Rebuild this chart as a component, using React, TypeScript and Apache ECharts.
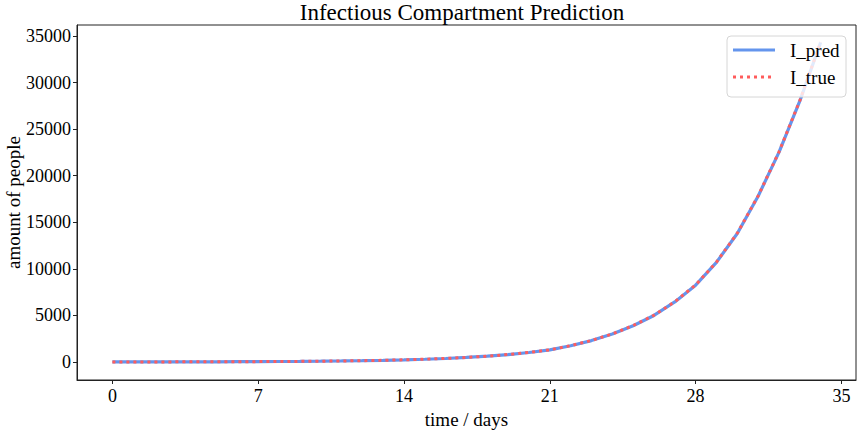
import React, { useEffect, useRef } from "react";
import * as echarts from "echarts";

const days = [0,1,2,3,4,5,6,7,8,9,10,11,12,13,14,15,16,17,18,19,20,21,22,23,24,25,26,27,28,29,30,31,32,33,34];
const predValues = [8,10,12,16,20,26,33,42,54,69,88,113,145,185,235,300,380,490,625,800,1020,1300,1750,2300,3000,3900,5000,6450,8250,10700,13800,17800,22500,28000,34300];
const trueValues = [8,10,12,16,20,26,33,42,54,69,88,113,145,185,236,301,382,492,628,803,1024,1305,1755,2310,3010,3915,5020,6470,8270,10720,13830,17830,22540,28050,34350];
const xTicks = [0, 7, 14, 21, 28, 35];
const yTicks = [0, 5000, 10000, 15000, 20000, 25000, 30000, 35000];
const legendNames = ["I_pred", "I_true"];

const FONT = "'Liberation Serif', 'DejaVu Serif', serif";
const BLUE = "#6495ED";
const RED = "#ff5c5c";

export default function App() {
  const ref = useRef<HTMLDivElement>(null);
  useEffect(() => {
    if (!ref.current) return;
    const chart = echarts.init(ref.current, null, { renderer: "svg" });
    chart.setOption({
      animation: false,
      backgroundColor: "#ffffff",
      title: {
        text: "Infectious Compartment Prediction",
        left: 462,
        textAlign: "center",
        top: 0,
        padding: [1, 0, 0, 0],
        textStyle: { fontFamily: FONT, fontSize: 23, fontWeight: "normal", color: "#000" },
      },
      grid: {
        left: 77, right: 3, top: 25, bottom: 50,
        outerBoundsMode: "none",
        containLabel: false,
        show: true, borderColor: "#222", borderWidth: 1, backgroundColor: "transparent",
      },
      xAxis: {
        type: "value",
        min: -1.7, max: 35.7,
        name: "time / days",
        nameLocation: "middle",
        nameGap: 25,
        nameTextStyle: { fontFamily: FONT, fontSize: 19, color: "#000" },
        axisLine: { show: true, onZero: false, lineStyle: { color: "#222", width: 1 } },
        axisTick: { show: true, inside: false, length: 4, lineStyle: { color: "#222" }, customValues: xTicks },
        axisLabel: { fontFamily: FONT, fontSize: 18, color: "#000", margin: 7, customValues: xTicks, formatter: (v: number) => String(v) },
        splitLine: { show: false },
      },
      yAxis: {
        type: "value",
        min: -1930, max: 36180,
        name: "amount of people",
        nameLocation: "middle",
        nameGap: 54,
        nameMoveOverlap: false,
        nameTextStyle: { fontFamily: FONT, fontSize: 19, color: "#000" },
        axisLine: { show: true, onZero: false, lineStyle: { color: "#222", width: 1 } },
        axisTick: { show: true, inside: false, length: 4, lineStyle: { color: "#222" }, customValues: yTicks },
        axisLabel: { fontFamily: FONT, fontSize: 18, color: "#000", margin: 6, customValues: yTicks, formatter: (v: number) => String(v) },
        splitLine: { show: false },
      },
      graphic: [
        {
          type: "rect",
          z: 100,
          shape: { x: 727, y: 36, width: 119, height: 61, r: 4 },
          style: { fill: "rgba(255,255,255,0.8)", stroke: "#d6d6d6", lineWidth: 1 },
        },
        {
          type: "line",
          z: 101,
          shape: { x1: 733, y1: 50, x2: 775, y2: 50 },
          style: { stroke: BLUE, lineWidth: 3.2 },
        },
        {
          type: "line",
          z: 101,
          shape: { x1: 733, y1: 77, x2: 775, y2: 77 },
          style: { stroke: RED, lineWidth: 3, lineDash: [3, 4] },
        },
        {
          type: "text",
          z: 101,
          x: 790, y: 50,
          style: { text: legendNames[0], font: `19px ${FONT}`, fill: "#000", verticalAlign: "middle" },
        },
        {
          type: "text",
          z: 101,
          x: 790, y: 77,
          style: { text: legendNames[1], font: `19px ${FONT}`, fill: "#000", verticalAlign: "middle" },
        },
      ],
      series: [
        {
          name: legendNames[0],
          type: "line",
          data: days.map((d, i) => [d, predValues[i]]),
          showSymbol: false,
          symbol: "none",
          lineStyle: { color: BLUE, width: 3.2 },
          itemStyle: { color: BLUE },
        },
        {
          name: legendNames[1],
          type: "line",
          data: days.map((d, i) => [d, trueValues[i]]),
          showSymbol: false,
          symbol: "none",
          lineStyle: { color: RED, width: 3, type: [3, 4] },
          itemStyle: { color: RED },
        },
      ],
    });
    return () => chart.dispose();
  }, []);
  return <div ref={ref} style={{ position: "absolute", left: 0, top: 0, width: 859, height: 430 }} />;
}
